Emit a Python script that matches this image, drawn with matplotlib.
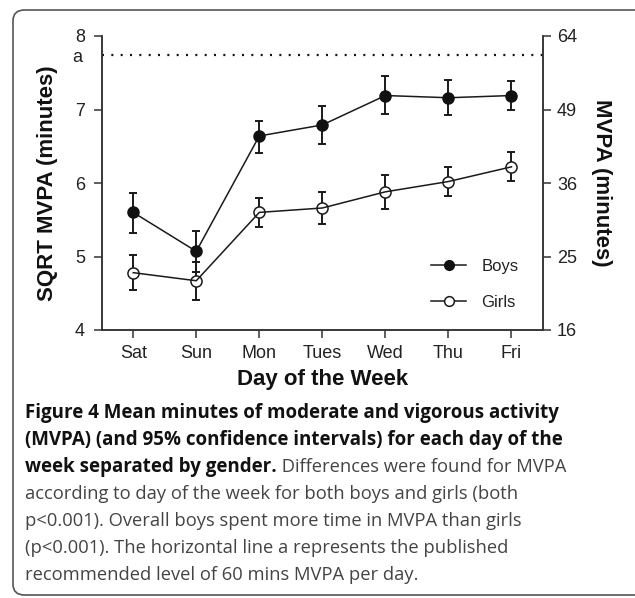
import matplotlib
matplotlib.use("Agg")
import matplotlib.pyplot as plt
from matplotlib.patches import FancyBboxPatch
from matplotlib.lines import Line2D
import numpy as np

days = ["Sat", "Sun", "Mon", "Tues", "Wed", "Thu", "Fri"]
boys_mean = [5.60, 5.07, 6.64, 6.79, 7.19, 7.16, 7.19]
boys_upper = [5.87, 5.35, 6.85, 7.05, 7.45, 7.40, 7.39]
boys_lower = [5.32, 4.79, 6.41, 6.53, 6.94, 6.93, 7.00]
girls_mean = [4.78, 4.67, 5.60, 5.66, 5.88, 6.02, 6.22]
girls_upper = [5.02, 4.92, 5.80, 5.88, 6.11, 6.22, 6.42]
girls_lower = [4.54, 4.41, 5.40, 5.44, 5.64, 5.82, 6.03]
left_ticks = [4, 5, 6, 7, 8]
right_tick_labels = ["16", "25", "36", "49", "64"]
recommended_mvpa = 60

caption_bold = ["Figure 4 Mean minutes of moderate and vigorous activity",
                "(MVPA) (and 95% confidence intervals) for each day of the",
                "week separated by gender."]
caption_rest_first = " Differences were found for MVPA"
caption_regular = ["according to day of the week for both boys and girls (both",
                   "p<0.001). Overall boys spent more time in MVPA than girls",
                   "(p<0.001). The horizontal line a represents the published",
                   "recommended level of 60 mins MVPA per day."]

W, H = 635, 598
fig = plt.figure(figsize=(W / 100, H / 100), dpi=100)
plt.rcParams['font.family'] = ['Liberation Sans', 'DejaVu Sans']

# frame (right edge runs off the image)
frame = FancyBboxPatch((13 / W, 3 / H), 700 / W, 585 / H,
                       boxstyle="round,pad=0,rounding_size=0.018",
                       transform=fig.transFigure, fill=False,
                       edgecolor="#555555", linewidth=1.2, clip_on=False)
fig.patches.append(frame)

ax = fig.add_axes([101.7 / W, 1 - 330 / H, (543 - 101.7) / W, 294 / H])
x = np.arange(len(days))
axcol = "#333333"
ink = "#1a1a1a"

ax.errorbar(x, boys_mean,
            yerr=[np.array(boys_mean) - np.array(boys_lower),
                  np.array(boys_upper) - np.array(boys_mean)],
            fmt='none', ecolor=ink, elinewidth=1.4, capsize=3, capthick=1.4, zorder=2)
ax.errorbar(x, girls_mean,
            yerr=[np.array(girls_mean) - np.array(girls_lower),
                  np.array(girls_upper) - np.array(girls_mean)],
            fmt='none', ecolor=ink, elinewidth=1.4, capsize=3, capthick=1.4, zorder=2)
ax.plot(x, boys_mean, '-', color=ink, lw=1.1, marker='o', ms=8,
        mfc='#111111', mec='#111111', zorder=3)
ax.plot(x, girls_mean, 'o', ms=8, mfc='white', mec=ink, mew=1.1, zorder=3)
ax.plot(x, girls_mean, '-', color=ink, lw=1.1, zorder=4)

rec = np.sqrt(recommended_mvpa)
ax.axhline(rec, color='#111111', lw=1.6, linestyle=(0, (0.9, 3.3)), zorder=1)

ax.set_xlim(-0.5, len(days) - 0.5)
ax.set_ylim(4, 8)
ax.set_xticks(x)
ax.set_xticklabels(days)
ax.set_yticks(left_ticks)
ax.set_yticklabels([str(t) for t in left_ticks])
ax.text(-0.045, rec - 0.04, "a", transform=ax.get_yaxis_transform(), ha='right', va='center',
        fontsize=13, color='#222222')

ax2 = ax.twinx()
ax2.set_ylim(4, 8)
ax2.set_yticks(left_ticks)
ax2.set_yticklabels(right_tick_labels)

for a in (ax, ax2):
    a.spines['top'].set_visible(False)
    for s in ('left', 'right', 'bottom'):
        a.spines[s].set_color(axcol)
        a.spines[s].set_linewidth(1.1)
    a.tick_params(direction='out', length=6, width=1.1, color=axcol,
                  labelsize=13, labelcolor='#222222', pad=4)
ax.tick_params(axis='y', pad=6)
ax.tick_params(axis='x', pad=5)

ax.set_xlabel("Day of the Week", fontsize=16, fontweight='bold', labelpad=5, color='#111111')
ax.set_ylabel("SQRT MVPA (minutes)", fontsize=16, fontweight='bold', labelpad=12, color='#111111')
ax2.set_ylabel("MVPA (minutes)", fontsize=16, fontweight='bold', labelpad=10, color='#111111',
               rotation=-90, va='bottom')

h_boys = Line2D([], [], color=ink, lw=1.1, marker='o', ms=7, mfc='#111111', mec='#111111')
h_girls = Line2D([], [], color=ink, lw=1.1, marker='o', ms=7, mfc='white', mec=ink, mew=1.1)
leg = ax.legend([h_boys, h_girls], ["Boys", "Girls"], loc='lower right',
                bbox_to_anchor=(0.963, 0.04), frameon=False, fontsize=12,
                handlelength=2.1, labelspacing=1.25, handletextpad=0.9, borderpad=0)
for t in leg.get_texts():
    t.set_color('#222222')

# caption
cap_font = ['Open Sans', 'DejaVu Sans']
bold_size = 13.5
reg_size = 13.2
x0 = 25 / W
ys = [413, 440, 467, 494, 521, 548, 575]
renderer = fig.canvas.get_renderer()
for i, line in enumerate(caption_bold):
    t = fig.text(x0, 1 - ys[i] / H, line, fontsize=bold_size, fontweight='bold',
                 family=cap_font, color='#111111', va='center', ha='left')
    if i == 2:
        bb = t.get_window_extent(renderer=renderer)
        fig.text(bb.x1 / W, 1 - ys[i] / H, caption_rest_first, fontsize=reg_size,
                 family=cap_font, color='#444444', va='center', ha='left')
for j, line in enumerate(caption_regular):
    fig.text(x0, 1 - ys[3 + j] / H, line, fontsize=reg_size, family=cap_font,
             color='#444444', va='center', ha='left')

fig.savefig("out.png", dpi=100)
